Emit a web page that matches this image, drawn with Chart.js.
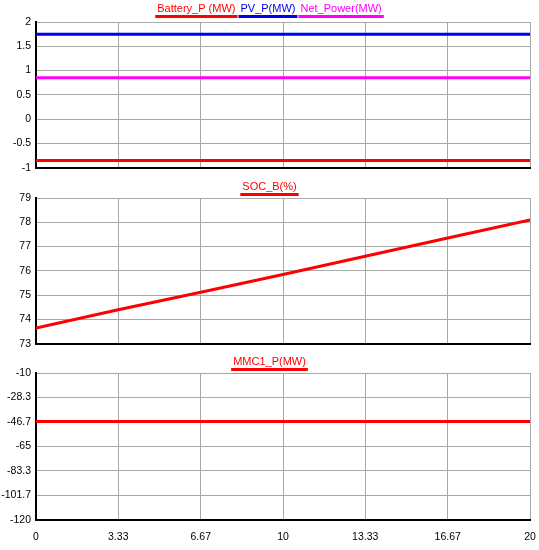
<!DOCTYPE html>
<html>
<head>
<meta charset="utf-8">
<script src="https://cdn.jsdelivr.net/npm/chart.js@4"></script>
<style>
  body { margin: 0; background: #fff; }
  #wrap { position: relative; width: 539px; height: 550px; }
  .box { position: absolute; left: 0; width: 539px; }
</style>
</head>
<body>
<div id="wrap">
  <div class="box" style="top:0;height:179px"><canvas id="c1" width="539" height="179"></canvas></div>
  <div class="box" style="top:172px;height:183px"><canvas id="c2" width="539" height="183"></canvas></div>
  <div class="box" style="top:350px;height:200px"><canvas id="c3" width="539" height="200"></canvas></div>
</div>
<script>
// time axis (s)
const timeTicks = [0, 3.33, 6.67, 10, 13.33, 16.67, 20];

// panel 1 : powers (MW)
const powerTime = [0, 5, 10, 15, 20];
const batteryP = [-0.85, -0.85, -0.85, -0.85, -0.85];
const pvP = [1.75, 1.75, 1.75, 1.75, 1.75];
const netPower = [0.85, 0.85, 0.85, 0.85, 0.85];

// panel 2 : state of charge (%)
const socTime = [0, 3.33, 6.67, 10, 13.33, 16.67, 20];
const socB = [73.65, 74.4, 75.12, 75.85, 76.6, 77.35, 78.1];

// panel 3 : converter power (MW)
const mmcTime = [0, 5, 10, 15, 20];
const mmc1P = [-46.2, -46.2, -46.2, -46.2, -46.2];
const mmcTicks = [-10, -28.3, -46.7, -65, -83.3, -101.7, -120];

const font = { family: "Arial, 'Liberation Sans', sans-serif", size: 10.5 };

// underlined legend drawn above each panel
const underlineLegend = {
  id: "underlineLegend",
  afterDraw(chart, args, opts) {
    const c = chart.ctx;
    c.save();
    c.font = "11px Arial, 'Liberation Sans', sans-serif";
    c.textBaseline = "alphabetic";
    const sets = chart.data.datasets;
    const gap = 5;
    const widths = sets.map(d => c.measureText(d.label).width);
    const total = widths.reduce((a, b) => a + b, 0) + gap * (sets.length - 1);
    let x = chart.width / 2 - total / 2;
    sets.forEach((d, i) => {
      c.fillStyle = d.borderColor;
      c.fillText(d.label, x, opts.y);
      c.fillRect(x - 2, opts.y + 3, widths[i] + 4, 3);
      x += widths[i] + gap;
    });
    c.restore();
  }
};

function makeChart(id, datasets, yOpts, padTop, legendY, showX) {
  return new Chart(document.getElementById(id), {
    type: "line",
    data: { datasets },
    options: {
      responsive: false,
      animation: false,
      layout: { padding: { top: padTop, right: 9, left: 0, bottom: 0 } },
      plugins: {
        legend: { display: false },
        tooltip: { enabled: false },
        underlineLegend: { y: legendY }
      },
      elements: { point: { radius: 0 }, line: { borderWidth: 3, tension: 0 } },
      scales: {
        x: {
          type: "linear", min: 0, max: 20,
          afterBuildTicks: s => { s.ticks = timeTicks.map(v => ({ value: v })); },
          afterFit: s => { s.height = showX ? 30 : 0; },
          ticks: { display: showX, color: "#000", font, padding: 0, maxRotation: 0,
                   callback: v => String(v) },
          grid: { color: "#a8a8a8", drawTicks: showX, tickLength: 11, tickColor: "rgba(0,0,0,0)" },
          border: { color: "#000", width: 2 }
        },
        y: Object.assign({
          afterFit: s => { s.width = 36; },
          grid: { color: "#a8a8a8", drawTicks: false },
          border: { color: "#000", width: 2 }
        }, yOpts)
      }
    },
    plugins: [underlineLegend]
  });
}

const pts = (xs, ys) => xs.map((x, i) => ({ x, y: ys[i] }));

makeChart("c1", [
  { label: "Battery_P (MW)", data: pts(powerTime, batteryP), borderColor: "#ff0000" },
  { label: "PV_P(MW)", data: pts(powerTime, pvP), borderColor: "#0000ee" },
  { label: "Net_Power(MW)", data: pts(powerTime, netPower), borderColor: "#ff00ff" }
], { min: -1, max: 2,
     ticks: { color: "#000", font, padding: 5, stepSize: 0.5, callback: v => String(v) } }, 22, 12, false);

makeChart("c2", [
  { label: "SOC_B(%)", data: pts(socTime, socB), borderColor: "#ff0000" }
], { min: 73, max: 79,
     ticks: { color: "#000", font, padding: 5, stepSize: 1, callback: v => String(v) } }, 26, 18, false);

makeChart("c3", [
  { label: "MMC1_P(MW)", data: pts(mmcTime, mmc1P), borderColor: "#ff0000" }
], { min: -120, max: -10,
     afterBuildTicks: s => { s.ticks = mmcTicks.map(v => ({ value: v })); },
     ticks: { color: "#000", font, padding: 5, callback: v => String(v) } }, 23, 15, true);
</script>
</body>
</html>
